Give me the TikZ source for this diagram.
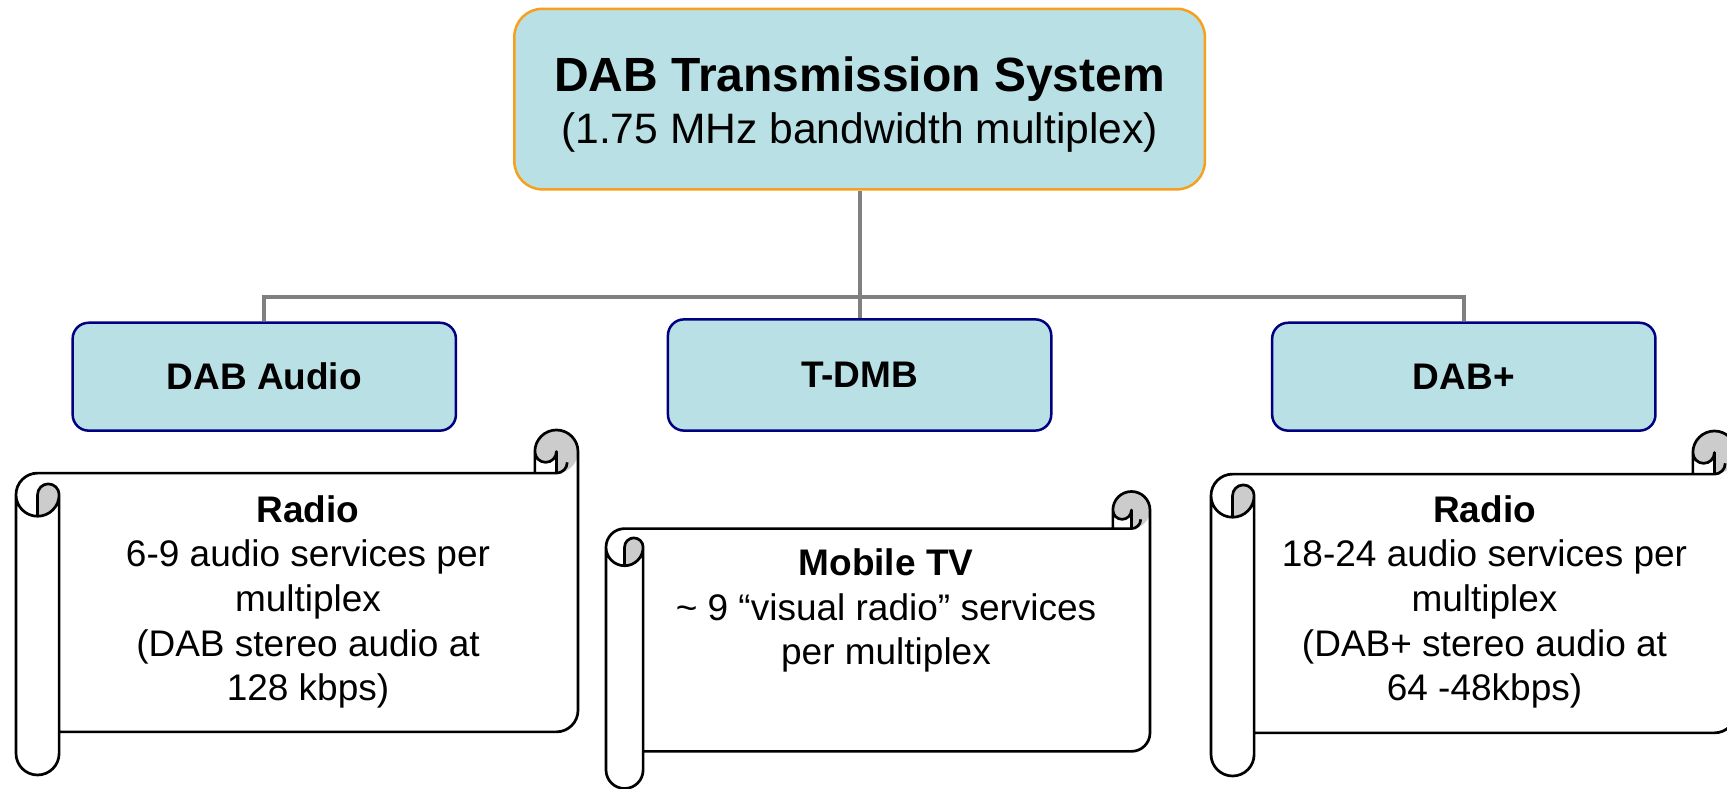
\documentclass[tikz,border=0pt]{standalone}
\usepackage{fontspec}
\setmainfont{Liberation Sans}

\definecolor{boxfill}{RGB}{185,224,228}
\definecolor{sysedge}{RGB}{247,160,30}
\definecolor{navyedge}{RGB}{0,0,128}
\definecolor{linkgray}{RGB}{128,128,128}
\definecolor{curlgray}{RGB}{204,204,204}

% Horizontal scroll: #1 = left x, #2 = top y, #3 = width, #4 = height
\newcommand\scrollshape[4]{%
  \begin{scope}[shift={(#1,#2)}]
    \pgfmathsetmacro\scWd{#3}
    \pgfmathsetmacro\scHt{#4}
    \pgfmathsetmacro\scA{#4/8}
    \pgfmathsetmacro\scB{\scA/2}
    \pgfmathsetmacro\scQ{\scA/4}
    \pgfmathsetmacro\scXa{\scWd-\scA}
    \pgfmathsetmacro\scXb{\scWd-\scB}
    \pgfmathsetmacro\scYa{-1.5*\scA}
    \pgfmathsetmacro\scYb{-2*\scA}
    \pgfmathsetmacro\scYc{-\scHt+1.5*\scA}
    \pgfmathsetmacro\scYd{-\scHt+\scA}
    \pgfmathsetmacro\scYe{-\scHt+\scB}
    % paper
    \fill[white] (\scWd,-\scB) arc[start angle=0,end angle=-90,radius=\scB]
      -- (\scXb,-\scB) arc[start angle=0,end angle=-180,radius=\scQ]
      -- (\scXa,-\scA) -- (\scB,-\scA) arc[start angle=90,end angle=180,radius=\scB]
      -- (0,\scYe) arc[start angle=180,end angle=360,radius=\scB]
      -- (\scA,\scYd) -- (\scXb,\scYd) arc[start angle=-90,end angle=0,radius=\scB]
      -- cycle
      (\scB,\scYb) arc[start angle=-90,end angle=0,radius=\scB]
      arc[start angle=0,end angle=180,radius=\scQ] -- cycle;
    % shaded insides of the rolls
    \fill[curlgray] (\scB,\scYb) arc[start angle=-90,end angle=0,radius=\scB]
      arc[start angle=0,end angle=180,radius=\scQ] -- cycle
      (\scXb,-\scA) arc[start angle=-90,end angle=180,radius=\scB]
      arc[start angle=180,end angle=360,radius=\scQ] -- cycle;
    % outline
    \draw[scrollline] (0,\scYa) arc[start angle=180,end angle=90,radius=\scB]
      -- (\scXa,-\scA) -- (\scXa,-\scB) arc[start angle=180,end angle=0,radius=\scB]
      -- (\scWd,\scYc) arc[start angle=0,end angle=-90,radius=\scB]
      -- (\scA,\scYd) -- (\scA,\scYe) arc[start angle=0,end angle=-180,radius=\scB]
      -- cycle
      (\scXa,-\scA) -- (\scXb,-\scA) arc[start angle=-90,end angle=0,radius=\scQ]
      (\scXb,-\scA) -- (\scXb,-\scB) arc[start angle=0,end angle=-180,radius=\scQ]
      (\scB,\scYb) -- (\scB,\scYa) arc[start angle=180,end angle=0,radius=\scQ]
      arc[start angle=0,end angle=-180,radius=\scB]
      (\scA,\scYa) -- (\scA,\scYd);
  \end{scope}}

\tikzset{
  sysbox/.style={draw=sysedge, fill=boxfill, line width=2.5pt, rounded corners=28pt,
    minimum width=690.5pt, minimum height=180.6pt, inner sep=0pt},
  kindbox/.style={draw=navyedge, fill=boxfill, line width=2.5pt, rounded corners=16pt,
    minimum width=383.3pt, inner sep=0pt,
    font=\fontsize{37}{44.6}\selectfont\bfseries},
  link/.style={draw=linkgray, line width=4.2pt},
  scrollline/.style={draw=black, line width=2.7pt, line join=round},
  scrolltext/.style={align=center, inner sep=0pt,
    font=\fontsize{37}{44.6}\selectfont}
}

\begin{document}
\begin{tikzpicture}[x=1pt,y=1pt]
  \useasboundingbox (0,0) rectangle (1727,789);
  \clip (0,0) rectangle (1727,789);

  % top level
  \node[sysbox] (sys) at (859.6,689.9) {};
  \node[anchor=base, inner sep=0pt, font=\fontsize{48}{55}\selectfont\bfseries]
    (systitle) at (859.6,697) {DAB Transmission System};
  \node[anchor=base, inner sep=0pt, font=\fontsize{42.6}{55}\selectfont]
    (syssub) at (859.6,645) {(1.75 MHz bandwidth multiplex)};

  % services
  \node[kindbox, minimum height=107.9pt] (audio) at (264.3,412.3) {DAB Audio};
  \node[kindbox, minimum height=111.2pt] (tdmb) at (859.6,414) {T-DMB};
  \node[kindbox, minimum height=107.9pt] (dabplus) at (1463.8,412.3) {DAB+};

  % tree connectors
  \coordinate (hub) at (859.6,491.6);
  \draw[link] (sys.south) -- (tdmb.north);
  \draw[link] (audio.north) |- (hub) -| (dabplus.north);

  % scrolls
  \scrollshape{16}{359}{562}{345}
  \scrollshape{606}{297.5}{544}{297}
  \scrollshape{1211}{358}{525}{345}

  \node[scrolltext] (audiotext) at (308,187)
    {\textbf{Radio}\\6-9 audio services per\\multiplex\\(DAB stereo audio at\\128 kbps)};
  \node[scrolltext] (tdmbtext) at (886,178.4)
    {\textbf{Mobile TV}\\\textasciitilde{} 9 “visual radio” services\\per multiplex};
  \node[scrolltext] (dabplustext) at (1484.5,187)
    {\textbf{Radio}\\18-24 audio services per\\multiplex\\(DAB+ stereo audio at\\64 -48kbps)};
\end{tikzpicture}
\end{document}
